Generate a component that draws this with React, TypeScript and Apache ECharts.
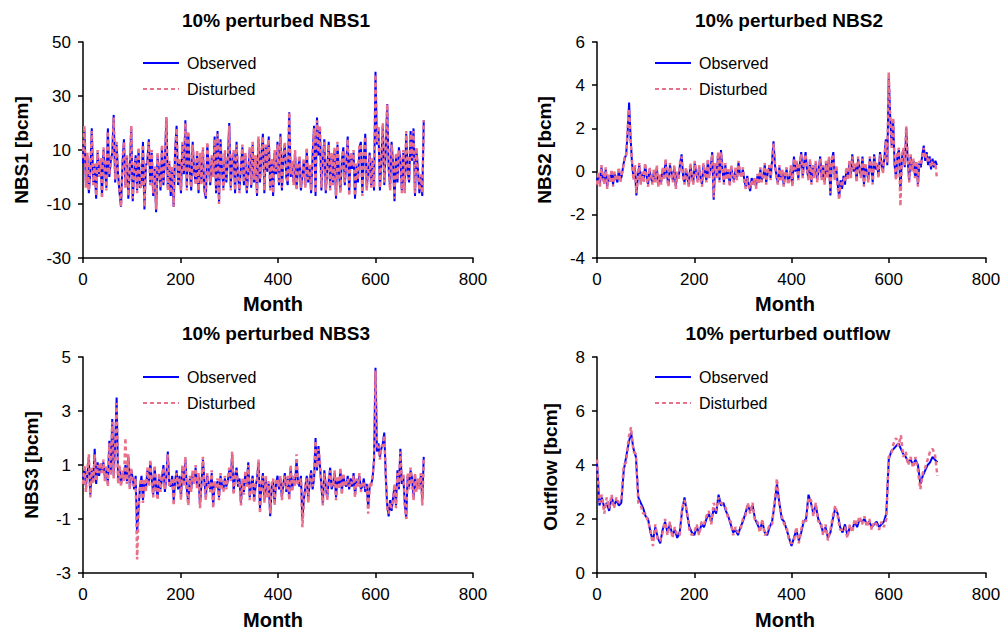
import React, { useEffect, useRef } from "react";
import * as echarts from "echarts";

// NBS series sampled every 3 months (0..699), outflow every 5 months (0..700)
const panelSteps = [3, 3, 3, 5];

const nbs1Observed = [
  5, 17, -3, 8, -6, 2, 18, -2, 4, -8, 9, 1, 6, -7, 10, 3, -4, 18, 0, 6,
  9, 23, -2, 12, 1, -6, -11, 5, 14, -3, 7, -8, 3, 18, -9, 2, 8, -5, 10, -4,
  -3, 13, -12, 4, 6, 14, -2, 9, -7, 3, -13, 8, 2, -5, 11, -3, 6, 22, -4, 5,
  -7, 3, -11, 10, 19, -3, 6, -6, 12, 1, 21, -4, 16, 3, -5, 13, 2, -2, 9, -6,
  8, -2, 10, -5, -8, 12, 4, -3, 7, 1, 15, -6, 17, -10, 14, 3, -4, 9, -2, 6,
  20, -4, 6, 9, -6, 13, 0, -5, 4, 11, -3, 8, -6, 2, 10, -4, 12, -2, 7, -7,
  14, -2, 8, 16, -6, 11, 2, 15, -4, 6, -7, 9, 1, 13, -3, 16, -5, 7, 12, 0,
  -3, 24, 0, 5, -2, 9, -4, 3, 7, -5, 1, 6, -3, 10, -2, 4, -6, 8, 19, -7,
  22, 8, 18, -5, 6, 14, -6, 3, 13, -4, 8, -2, 10, -8, 12, 2, -5, 6, 11, -3,
  5, 15, -6, 8, 3, 9, -8, 4, -2, 11, 13, -6, 7, 16, -4, 2, 9, -3, 6, -5,
  39, 12, 18, -5, 6, 19, -3, 10, 27, 3, -4, 13, 5, -9, 8, -2, 11, 6, -5, 9,
  -5, 16, 2, -2, 17, 6, 18, -7, 10, 3, -6, 0, -7, 21,
];
const nbs1Disturbed = [
  7, 19, -4, 9, -5, 3, 17, -3, 5, -7, 10, 0, 7, -8, 11, 2, -5, 17, 1, 5,
  10, 22, -1, 13, 0, -5, -11, 6, 13, -4, 8, -7, 4, 19, -8, 3, 7, -6, 11, -3,
  -4, 12, -11, 5, 5, 13, -3, 10, -6, 4, -12, 9, 1, -4, 12, -2, 5, 22, -5, 6,
  -6, 4, -11, 9, 18, -2, 7, -5, 13, 2, 20, -5, 17, 2, -4, 12, 3, -3, 10, -5,
  9, -3, 11, -4, -7, 13, 3, -2, 8, 0, 14, -5, 16, -10, 13, 4, -5, 10, -1, 5,
  19, -5, 7, 10, -5, 12, 1, -6, 5, 12, -2, 9, -5, 3, 11, -3, 13, -1, 8, -6,
  15, -1, 9, 15, -5, 12, 3, 14, -5, 7, -6, 10, 2, 12, -2, 15, -4, 8, 13, 1,
  -2, 24, 1, 6, -3, 10, -5, 4, 8, -4, 2, 7, -4, 11, -1, 5, -5, 9, 18, -6,
  21, 9, 19, -4, 7, 13, -5, 4, 12, -5, 9, -3, 11, -7, 13, 3, -6, 7, 10, -2,
  6, 14, -7, 9, 4, 10, -7, 5, -1, 12, 12, -7, 8, 15, -5, 3, 8, -4, 7, -4,
  38, 13, 19, -4, 7, 20, -2, 11, 27, 4, -5, 12, 6, -8, 9, -1, 10, 7, -6, 10,
  -6, 17, 3, -1, 16, 7, 17, -6, 11, 2, -5, 1, -6, 21,
];

const nbs2Observed = [
  -0.4, -0.1, -0.6, 0.2, -0.3, -0.5, 0.1, -0.7, -0.2, -0.4, 0.0, -0.6, -0.1, -0.3, -0.5, 0.1, -0.4, -0.2, 0.3, 0.6,
  0.8, 1.8, 3.2, 1.6, 0.4, -0.3, 0.2, -1.1, -0.2, 0.3, -0.5, -0.1, -0.4, 0.3, -0.2, -0.6, 0.1, -0.3, -0.5, 0.0,
  -0.4, 0.2, -0.6, -0.2, -0.5, 0.1, -0.3, 0.5, -0.2, -0.6, 0.3, 0.0, -0.4, 0.2, -0.7, -0.1, -0.3, 0.4, 0.8, -0.2,
  -0.5, 0.1, -0.3, -0.6, 0.3, -0.2, -0.5, 0.4, -0.1, -0.4, 0.2, -0.3, -0.6, 0.3, 0.0, -0.4, 0.5, -0.2, 0.2, 0.9,
  -1.3, 0.3, -0.2, 0.8, -0.4, 1.0, 0.1, -0.5, 0.3, -0.3, 0.0, -0.6, 0.2, -0.2, -0.4, 0.1, -0.3, 0.4, -0.1, -0.2,
  0.1, -0.4, -0.7, -0.2, -0.6, -0.9, -0.3, -0.5, -0.4, -0.7, -0.2, -0.5, 0.1, -0.4, -0.2, 0.3, -0.5, -0.1, 0.2, -0.3,
  0.5, 1.4, 0.3, -0.2, -0.5, 0.2, -0.3, 0.0, -0.6, -0.2, 0.1, -0.5, -0.3, 0.2, -0.6, 0.7, 0.0, 0.4, -0.3, 0.3,
  0.9, -0.2, 0.4, 0.9, 0.0, -0.3, 0.5, -0.5, 0.2, -0.2, 0.4, -0.4, 0.1, 0.7, -0.3, 0.2, -0.5, 0.4, -0.2, 0.6,
  -1.1, 0.5, 0.9, -0.3, 0.2, -0.6, -1.2, -0.4, -0.8, -0.2, -0.6, 0.1, -0.3, 0.4, -0.2, 0.8, 0.0, 0.3, -0.4, 0.6,
  0.1, -0.2, 0.7, -0.6, 0.3, 0.0, -0.4, 0.6, 0.2, -0.5, 0.8, 0.1, 0.3, -0.2, 0.9, 0.4, 0.0, 0.6, 1.5, 0.3,
  4.4, 2.5, 1.2, 2.4, 0.3, -0.3, 0.8, 1.0, -0.9, 0.6, 1.0, 0.2, 2.0, 0.5, -0.4, 0.7, 0.1, 0.5, -0.2, 0.4,
  -0.6, 0.4, 0.2, 0.8, 1.2, 0.5, 0.9, 0.3, 0.7, 0.1, 0.6, 0.2, 0.5, 0.3,
];
const nbs2Disturbed = [
  -0.6, 0.0, -0.7, 0.3, -0.2, -0.6, 0.2, -0.8, -0.1, -0.5, 0.1, -0.7, 0.0, -0.4, -0.4, 0.2, -0.5, -0.1, 0.2, 0.7,
  0.7, 2.0, 2.9, 1.5, 0.5, -0.4, 0.3, -1.0, -0.3, 0.4, -0.6, 0.0, -0.5, 0.4, -0.3, -0.7, 0.2, -0.2, -0.6, 0.1,
  -0.5, 0.3, -0.7, -0.1, -0.6, 0.2, -0.4, 0.6, -0.3, -0.7, 0.4, -0.1, -0.5, 0.3, -0.8, 0.0, -0.4, 0.5, 0.7, -0.3,
  -0.6, 0.2, -0.4, -0.7, 0.4, -0.3, -0.6, 0.5, 0.0, -0.5, 0.3, -0.4, -0.7, 0.4, -0.1, -0.5, 0.6, -0.3, 0.3, 0.8,
  -1.2, 0.4, -0.3, 0.9, -0.5, 0.9, 0.2, -0.6, 0.4, -0.4, 0.1, -0.7, 0.3, -0.3, -0.5, 0.2, -0.4, 0.5, 0.0, -0.3,
  0.2, -0.5, -0.8, -0.3, -0.7, -0.8, -0.4, -0.6, -0.3, -0.8, -0.1, -0.6, 0.2, -0.5, -0.1, 0.4, -0.6, 0.0, 0.3, -0.4,
  0.4, 1.3, 0.4, -0.3, -0.6, 0.3, -0.4, 0.1, -0.7, -0.1, 0.2, -0.6, -0.4, 0.3, -0.7, 0.6, 0.1, 0.5, -0.4, 0.4,
  0.8, -0.3, 0.5, 0.8, 0.1, -0.4, 0.6, -0.6, 0.3, -0.3, 0.5, -0.5, 0.2, 0.6, -0.4, 0.3, -0.6, 0.5, -0.3, 0.7,
  -1.0, 0.6, 0.8, -0.4, 0.3, -0.7, -1.3, -0.5, -0.7, -0.3, -0.5, 0.2, -0.4, 0.5, -0.3, 0.7, 0.1, 0.4, -0.5, 0.7,
  0.2, -0.3, 0.6, -0.7, 0.4, -0.1, -0.5, 0.7, 0.3, -0.6, 0.7, 0.2, 0.4, -0.3, 0.8, 0.5, -0.1, 0.7, 1.4, 0.4,
  4.6, 2.4, 1.1, 2.5, 0.4, -0.4, 0.9, 1.1, -1.6, 0.7, 1.1, 0.3, 2.1, 0.6, -0.5, 0.8, 0.0, 0.6, -0.3, 0.5,
  -0.7, 0.5, 0.3, 0.7, 1.1, 0.6, 0.8, 0.4, 0.6, 0.2, 0.5, 0.3, 0.4, -0.3,
];

const nbs3Observed = [
  0.5, 0.9, 0.2, 0.7, 1.2, -0.1, 0.8, 0.4, 1.6, 0.3, 1.1, 0.6, 1.0, 0.8, 1.1, 0.5, 0.9, 0.3, 1.9, 0.7,
  2.7, 0.6, 1.8, 3.5, 0.4, 0.9, 0.3, 0.7, 0.5, 1.0, 0.4, 1.3, 0.2, 0.8, 0.5, 0.1, 0.6, -1.5, -0.6, 0.2,
  0.6, -0.3, 0.4, 0.1, 0.8, 0.3, 1.1, 0.5, -0.1, 0.9, 0.2, -0.2, 0.6, 0.1, 0.5, 1.0, 0.0, 0.6, 1.5, 0.3,
  0.2, 0.6, -0.3, 0.4, 0.8, 0.1, 0.6, -0.2, 0.9, 0.3, 1.2, 0.1, -0.4, 0.5, 0.1, 0.7, 0.4, 0.9, 0.2, 0.6,
  -0.5, 0.3, 1.2, 0.4, -0.2, 0.6, 0.3, 0.1, 0.7, -0.5, 0.3, 0.2, 0.4, -0.2, 0.6, 0.3, 0.1, 0.5, 0.2, 0.4,
  0.8, 0.5, 1.4, 0.0, 0.6, 0.9, 0.2, 0.5, -0.4, 0.4, 0.0, 0.7, 0.3, 1.1, -0.2, 0.3, 0.6, -0.3, 0.2, 0.5,
  1.1, -0.6, 0.2, 0.7, -0.3, 0.5, -0.1, 0.3, -0.9, 0.2, 0.4, -0.4, 0.3, 0.6, 0.1, 0.5, -0.2, 0.3, 0.7, 0.0,
  0.5, -0.2, 0.9, 0.1, 0.5, 0.3, 1.2, 0.4, 0.2, 0.6, -1.0, -0.3, 0.2, 0.6, -0.3, 0.4, 0.8, 0.1, 0.5, 2.0,
  0.8, 1.7, 1.0, 0.2, -0.4, 0.8, 0.2, -0.2, 0.4, 0.9, 0.1, 0.3, 0.7, -0.2, 0.5, 0.2, 0.8, 0.0, 0.6, 0.3,
  0.2, 0.6, 0.1, 0.5, 0.2, 0.7, -0.1, 0.4, 0.3, 0.6, 0.1, 0.2, 0.5, 0.0, 0.3, -0.6, 0.2, 0.3, 0.5, 1.2,
  4.6, 1.5, 1.8, 1.3, 1.6, 1.8, 2.2, 0.6, -0.5, -0.9, -0.3, -0.7, -0.2, 0.2, -0.5, 0.8, 0.1, 1.6, 0.3, 0.6,
  -0.4, -1.0, 0.6, 0.2, 0.8, 0.5, -0.2, 0.6, 0.1, 0.4, 0.2, 0.6, -0.3, 1.3,
];
const nbs3Disturbed = [
  0.3, 1.0, 0.0, 0.8, 1.4, -0.2, 0.9, 0.3, 1.4, 0.4, 1.0, 0.7, 1.1, 0.7, 1.2, 0.4, 1.0, 0.2, 1.8, 0.6,
  2.6, 0.5, 1.7, 3.3, 0.3, 1.0, 0.2, 0.8, 0.4, 2.0, 0.3, 1.4, 0.1, 0.9, 0.4, 0.2, 0.5, -2.5, -0.7, 0.3,
  0.5, -0.4, 0.5, 0.0, 0.9, 0.2, 1.2, 0.4, -0.2, 1.0, 0.1, -0.3, 0.7, 0.0, 0.6, 0.9, 0.1, 0.5, 1.4, 0.2,
  0.3, 0.5, -0.5, 0.5, 0.7, 0.2, 0.5, -0.3, 1.0, 0.2, 1.3, 0.0, -0.5, 0.6, 0.0, 0.8, 0.3, 1.0, 0.1, 0.7,
  -0.6, 0.4, 1.3, 0.3, -0.3, 0.7, 0.2, 0.0, 0.8, -0.6, 0.4, 0.1, 0.5, -0.3, 0.7, 0.2, 0.0, 0.6, 0.1, 0.5,
  0.9, 0.4, 1.5, -0.1, 0.7, 0.8, 0.3, 0.4, -0.5, 0.5, -0.1, 0.8, 0.2, 1.0, -0.3, 0.4, 0.5, -0.4, 0.3, 0.4,
  1.2, -0.8, 0.3, 0.6, -0.4, 0.6, -0.2, 0.4, -0.8, 0.3, 0.5, -0.5, 0.4, 0.5, 0.2, 0.6, -0.3, 0.4, 0.6, 0.1,
  0.6, -0.3, 1.0, 0.0, 0.6, 0.2, 1.4, 0.3, 0.3, 0.5, -1.3, -0.4, 0.3, 0.5, -0.4, 0.5, 0.7, 0.2, 0.6, 1.9,
  0.9, 1.6, 1.1, 0.3, -0.5, 0.7, 0.3, -0.3, 0.5, 0.8, 0.2, 0.2, 0.8, -0.3, 0.6, 0.1, 0.9, -0.1, 0.7, 0.2,
  0.3, 0.5, 0.2, 0.4, 0.3, 0.6, -0.2, 0.5, 0.2, 0.7, 0.0, 0.3, 0.4, 0.1, 0.2, -0.8, 0.3, 0.2, 0.6, 1.1,
  4.5, 1.6, 1.7, 1.2, 1.7, 1.7, 2.1, 0.7, -0.6, -0.8, -0.4, -0.6, -0.3, 0.3, -0.6, 0.7, 0.2, 1.5, 0.4, 0.7,
  -0.5, -1.0, 0.7, 0.1, 0.9, 0.4, -0.3, 0.7, 0.0, 0.5, 0.1, 0.7, -0.5, 1.2,
];

const outflowObserved = [
  4.1, 2.5, 2.8, 2.4, 2.6, 2.3, 2.8, 2.5, 2.7, 2.5, 2.6, 3.8, 4.3, 4.8, 5.2, 4.6, 4.3, 2.8, 2.6, 2.4,
  2.1, 2.0, 1.5, 1.2, 1.7, 1.3, 1.1, 1.6, 1.9, 1.5, 1.8, 1.4, 1.6, 1.3, 1.5, 2.3, 2.8, 2.2, 1.7, 1.5,
  1.4, 1.7, 1.5, 1.8, 1.7, 2.0, 2.2, 1.9, 2.4, 2.2, 2.9, 2.5, 2.6, 2.3, 2.1, 1.8, 1.5, 1.6, 1.4, 1.7,
  1.9, 2.2, 2.5, 2.3, 2.5, 2.0, 1.8, 1.6, 1.9, 1.5, 1.4, 1.7, 1.9, 2.5, 3.3, 2.6, 2.0, 1.9, 1.6, 1.3,
  1.0, 1.3, 1.6, 1.2, 1.5, 1.9, 2.0, 2.9, 2.6, 2.2, 2.5, 2.0, 1.8, 1.5, 1.7, 1.3, 1.5, 2.0, 2.4, 2.2,
  1.7, 1.5, 1.8, 1.4, 1.7, 1.6, 1.9, 1.7, 2.0, 1.9, 2.0, 1.8, 1.9, 1.7, 1.8, 1.9, 1.7, 1.8, 1.9, 2.2,
  4.2, 4.5, 4.6, 4.7, 4.8, 4.6, 4.4, 4.3, 4.1, 4.2, 4.0, 4.2, 4.0, 3.3, 3.6, 3.8, 4.0, 4.1, 4.3, 4.2, 4.1,
];
const outflowDisturbed = [
  4.2, 2.6, 2.9, 2.2, 2.8, 2.4, 2.9, 2.4, 2.8, 2.6, 2.7, 4.0, 4.1, 5.0, 5.4, 4.5, 4.4, 2.6, 2.5, 2.2,
  2.2, 1.9, 1.6, 1.0, 1.8, 1.2, 1.2, 1.5, 2.0, 1.4, 1.9, 1.3, 1.7, 1.4, 1.4, 2.4, 2.7, 2.3, 1.6, 1.4,
  1.5, 1.8, 1.4, 1.9, 1.8, 2.1, 2.3, 1.8, 2.6, 2.3, 2.8, 2.6, 2.5, 2.4, 2.0, 1.9, 1.4, 1.7, 1.5, 1.6,
  2.0, 2.1, 2.6, 2.2, 2.6, 1.9, 1.9, 1.5, 2.0, 1.4, 1.5, 1.8, 1.8, 2.6, 3.5, 2.5, 2.1, 1.8, 1.7, 1.2,
  1.1, 1.2, 1.7, 1.1, 1.6, 2.0, 1.9, 2.8, 2.7, 2.1, 2.6, 1.9, 1.9, 1.4, 1.8, 1.2, 1.6, 2.1, 2.5, 2.1,
  1.6, 1.6, 1.7, 1.3, 1.8, 1.5, 2.0, 1.8, 2.1, 1.8, 2.1, 1.7, 2.0, 1.6, 1.9, 1.8, 1.6, 1.9, 1.7, 2.0,
  4.3, 4.4, 4.8, 5.0, 4.7, 5.1, 4.3, 4.5, 4.0, 4.3, 3.9, 4.3, 3.8, 3.1, 3.7, 3.9, 4.2, 4.5, 4.6, 4.4, 3.6,
];

const titles = ["10% perturbed NBS1", "10% perturbed NBS2", "10% perturbed NBS3", "10% perturbed outflow"];
const yNames = ["NBS1 [bcm]", "NBS2 [bcm]", "NBS3 [bcm]", "Outflow [bcm]"];
const xName = "Month";
const seriesNames = ["Observed", "Disturbed"];
const yRanges = [
  { min: -30, max: 50, interval: 20 },
  { min: -4, max: 6, interval: 2 },
  { min: -3, max: 5, interval: 2 },
  { min: 0, max: 8, interval: 2 },
];
const xRange = { min: 0, max: 800, interval: 200 };
const panelData = [
  [nbs1Observed, nbs1Disturbed],
  [nbs2Observed, nbs2Disturbed],
  [nbs3Observed, nbs3Disturbed],
  [outflowObserved, outflowDisturbed],
];

// layout (pixels)
const grids = [
  { left: 83, top: 42, width: 390, height: 216 },
  { left: 597, top: 42, width: 389, height: 216 },
  { left: 83, top: 357, width: 390, height: 216 },
  { left: 597, top: 357, width: 389, height: 216 },
];
const titlePos = [[276, 20], [789, 20], [276, 333], [788, 333]];
const xNamePos = [[273, 304], [785, 304], [273, 620], [785, 620]];
const yNamePos = [[21, 150], [544, 150], [31, 465], [550, 467]];
const legendPos = [[142, 55], [654, 55], [142, 369], [654, 369]];

const FONT = "'Liberation Sans', Arial, sans-serif";
const BLUE = "#0000ff";
const PINK = "#e8708a";

export default function App() {
  const ref = useRef<HTMLDivElement>(null);
  useEffect(() => {
    if (!ref.current) return;
    const chart = echarts.init(ref.current, null, { renderer: "svg" });
    const toPairs = (arr: number[], step: number) => arr.map((v, i) => [i * step, v]);

    const series: any[] = [];
    panelData.forEach((pair, p) => {
      series.push({
        name: seriesNames[0],
        type: "line",
        xAxisIndex: p,
        yAxisIndex: p,
        data: toPairs(pair[0], panelSteps[p]),
        showSymbol: false,
        symbol: "none",
        lineStyle: { color: BLUE, width: 2, type: "solid" },
        itemStyle: { color: BLUE },
      });
      series.push({
        name: seriesNames[1],
        type: "line",
        xAxisIndex: p,
        yAxisIndex: p,
        data: toPairs(pair[1], panelSteps[p]),
        showSymbol: false,
        symbol: "none",
        lineStyle: { color: PINK, width: 2.5, type: [4, 3] },
        itemStyle: { color: PINK },
      });
    });

    const graphic: any[] = [];
    titles.forEach((t, i) => {
      graphic.push({
        type: "text",
        x: titlePos[i][0],
        y: titlePos[i][1],
        style: { text: t, font: `bold 19px ${FONT}`, fill: "#000", align: "center", verticalAlign: "middle" },
      });
      graphic.push({
        type: "text",
        x: xNamePos[i][0],
        y: xNamePos[i][1],
        style: { text: xName, font: `bold 20px ${FONT}`, fill: "#000", align: "center", verticalAlign: "middle" },
      });
      graphic.push({
        type: "text",
        x: yNamePos[i][0],
        y: yNamePos[i][1],
        rotation: Math.PI / 2,
        style: { text: yNames[i], font: `bold 19px ${FONT}`, fill: "#000", align: "center", verticalAlign: "middle" },
      });
    });

    chart.setOption({
      animation: false,
      backgroundColor: "#fff",
      grid: grids.map((g) => ({ ...g, containLabel: false })),
      xAxis: grids.map((_, i) => ({
        type: "value",
        gridIndex: i,
        ...xRange,
        axisLine: { show: true, onZero: false, lineStyle: { color: "#000", width: 1.5 } },
        axisTick: { show: true, length: 5, lineStyle: { color: "#000", width: 1.5 } },
        axisLabel: { color: "#000", fontSize: 17, fontFamily: FONT, margin: 13 },
        splitLine: { show: false },
      })),
      yAxis: grids.map((_, i) => ({
        type: "value",
        gridIndex: i,
        ...yRanges[i],
        axisLine: { show: true, onZero: false, lineStyle: { color: "#000", width: 1.5 } },
        axisTick: { show: true, length: 5, lineStyle: { color: "#000", width: 1.5 } },
        axisLabel: { color: "#000", fontSize: 17, fontFamily: FONT, margin: 12 },
        splitLine: { show: false },
      })),
      legend: legendPos.map((pos) => ({
        data: seriesNames,
        orient: "vertical",
        left: pos[0],
        top: pos[1],
        padding: 0,
        itemWidth: 36,
        itemHeight: 14,
        itemGap: 10,
        selectedMode: false,
        itemStyle: { opacity: 0 },
        textStyle: { color: "#000", fontSize: 16, fontFamily: FONT, padding: [0, 0, 0, 3] },
      })),
      graphic,
      series,
    });
    return () => chart.dispose();
  }, []);

  return (
    <div
      ref={ref}
      style={{ position: "absolute", left: 0, top: 0, width: 1005, height: 632 }}
    />
  );
}
